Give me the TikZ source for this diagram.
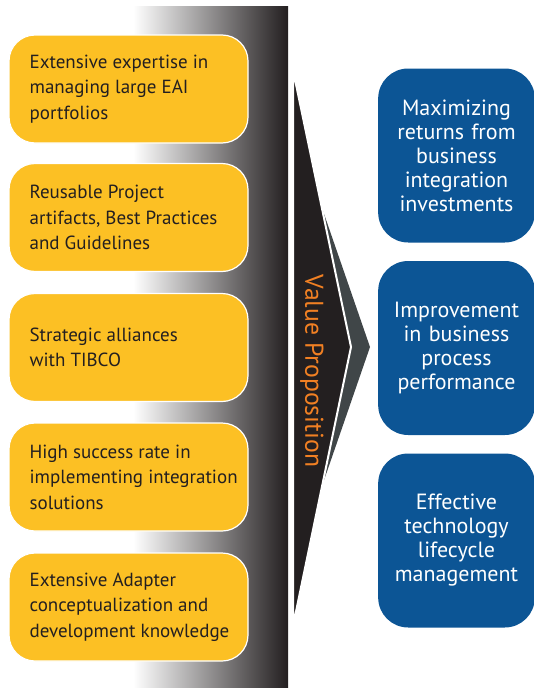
\documentclass[tikz,border=0pt]{standalone}
\usepackage{fontspec}
\setmainfont{PT Sans}
\usepackage{tikz}
\usetikzlibrary{shapes}

\definecolor{jaune}{RGB}{252,192,36}
\definecolor{bleu}{RGB}{12,85,149}
\definecolor{noir}{RGB}{35,31,32}
\definecolor{ardoise}{RGB}{64,70,72}
\definecolor{orange}{RGB}{241,128,35}

\begin{document}
\begin{tikzpicture}[x=1pt,y=-1pt]
    \tikzset{pyellow/.style={draw=white,line width=1.2pt,fill=jaune,rectangle,rounded corners=26pt,minimum width=239pt,minimum height=108pt},
             pblue/.style={fill=bleu,rectangle,rounded corners=30pt,minimum width=153pt,minimum height=174pt,text width=150pt,align=center,text=white,font=\fontsize{22}{24}\selectfont}}
    \tikzstyle{ptext}=[anchor=west,align=left,text=noir,inner sep=0pt,font=\fontsize{19}{25.5}\selectfont]
    \useasboundingbox (0,0) rectangle (533,688);

    % bande grise
    \shade[left color=white,right color=noir] (133,6) rectangle (288,688);

    % fleche centrale
    \fill[ardoise] (322,208)--(370,347)--(322,486)--cycle;
    \filldraw[fill=noir,draw=white,line width=2pt] (293,70)--(351,347)--(293,626)--cycle;
    \node[rotate=-90,text=orange,font=\fontsize{25.7}{26}\selectfont] (VP) at (312,371) {Value Proposition};

    \node[pyellow] (EXP) at (128.5,89) {};
    \node[ptext] (EXPt) at ([xshift=21pt]EXP.west) {Extensive expertise in\\managing large EAI\\portfolios};
    \node[pyellow] (REU) at (128.5,217.5) {};
    \node[ptext] (REUt) at ([xshift=21pt]REU.west) {Reusable Project\\artifacts, Best Practices\\and Guidelines};
    \node[pyellow] (ALL) at (128.5,347.5) {};
    \node[ptext] (ALLt) at ([xshift=21pt]ALL.west) {Strategic alliances\\with TIBCO};
    \node[pyellow] (SUC) at (128.5,477) {};
    \node[ptext] (SUCt) at ([xshift=21pt]SUC.west) {High success rate in\\implementing integration\\solutions};
    \node[pyellow] (ADA) at (128.5,607) {};
    \node[ptext] (ADAt) at ([xshift=21pt]ADA.west) {Extensive Adapter\\conceptualization and\\development knowledge};

    \node[pblue] (MAX) at (456.5,155.5) {Maximizing\\returns from\\business\\integration\\investments};
    \node[pblue] (IMP) at (456.5,348) {Improvement\\in business\\process\\performance};
    \node[pblue] (EFF) at (456.5,540.5) {Effective\\technology\\lifecycle\\management};
\end{tikzpicture}
\end{document}
